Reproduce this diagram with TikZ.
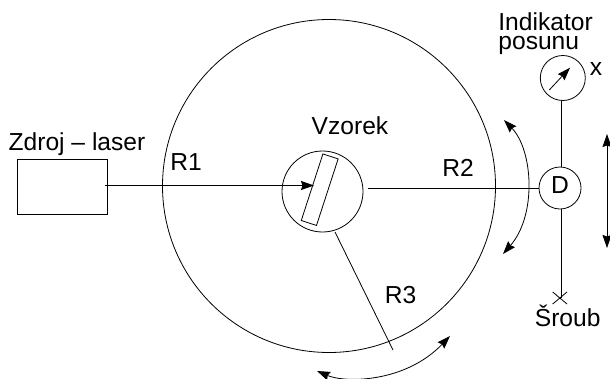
\documentclass[tikz,border=0pt]{standalone}
\usepackage{fontspec}
\setmainfont{Liberation Sans}
\usetikzlibrary{arrows.meta,positioning}

\begin{document}
\begin{tikzpicture}[x=1pt,y=-1pt,line width=0.8pt,
      disk/.style={draw,circle,inner sep=0pt},
      lbl/.style={inner sep=0pt,anchor=base,font=\fontsize{24.6}{18.6}\selectfont},
      tip/.style={-{Stealth[length=13pt,width=9pt,inset=1.5pt]}},
      both/.style={{Stealth[length=13pt,width=9pt,inset=1.5pt]}-{Stealth[length=13pt,width=9pt,inset=1.5pt]}}]
    \useasboundingbox (0,0) rectangle (610,378);
    \node (table) [disk,minimum size=333pt] at (329,186) {};
    \node (holder) [disk,minimum size=81pt] at (322.5,191.5) {};
    \node (sample) [draw,inner sep=0pt,minimum width=70pt,minimum height=16pt,rotate=72] at (319.7,189.7) {};
    \node (laser) [draw,inner sep=0pt,minimum width=89.5pt,minimum height=55pt] at (62.5,187) {};
    \node (D) [disk,minimum size=42pt] at (560,188) {};
    \node (ind) [disk,minimum size=45pt] at (562.8,78) {};
    % free ends
    \coordinate (beam) at (105,185.5);
    \coordinate (hit) at (314,185.5);
    \coordinate (rtwo) at (368,188);
    \coordinate (rthree) at (335,232);
    \coordinate (rthreeend) at (393,350);
    \coordinate (screw) at (561,298);
    \coordinate (needlea) at (549.3,90);
    \coordinate (needleb) at (570,67.7);
    \draw[tip] (beam) -- (hit);
    \draw (rtwo) -- (D.west |- rtwo);
    \draw (rthree) -- (rthreeend);
    \draw (screw |- ind.south) -- (screw |- D.north);
    \draw (screw |- D.south) -- (screw);
    \draw (552.7,292) -- (567,304);
    \draw (552.7,304) -- (567,292);
    \draw[tip] (needlea) -- (needleb);
    \draw[both] (607,134) -- (607,248);
    \draw[both] (504,120) .. controls (533,150) and (537,215) .. (503,254);
    \draw[both] (317,371) .. controls (345,383) and (405,383) .. (450,336);
    % labels
    \node (zdroj) [lbl] at (77,150) {Zdroj – laser};
    \node (rone) [lbl] at (186,170.5) {R1};
    \node (vzorek) [lbl] at (350,134) {Vzorek};
    \node (rtwolbl) [lbl] at (458,176.5) {R2};
    \node (rthreelbl) [lbl] at (400.5,303) {R3};
    \node (indikator) [lbl,align=left,anchor=base west] at (498,49.3) {Indikator\\posunu};
    \node (x) [lbl] at (596,75) {x};
    \node (dlbl) [lbl] at (560,193.5) {D};
    \node (sroub) [lbl] at (567.7,326.7) {Šroub};
  \end{tikzpicture}
\end{document}
